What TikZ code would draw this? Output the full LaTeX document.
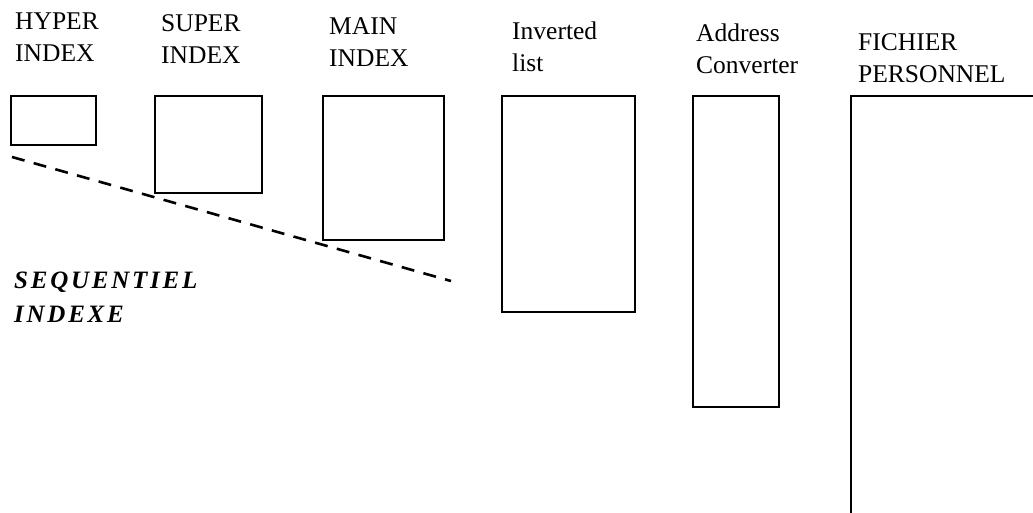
\documentclass[tikz,border=0pt]{standalone}
\usepackage{fontspec}
\setmainfont{Liberation Serif}
\tikzset{
  box/.style={draw, line width=1.8pt, inner sep=0pt, anchor=north west},
  lbl/.style={font=\fontsize{25.5}{32}\selectfont, align=left, inner sep=0pt, anchor=base west}
}
\begin{document}
\begin{tikzpicture}[x=1pt, y=-1pt]
          \useasboundingbox (0,0) rectangle (1033,513);

          % the files
          \node[box, minimum width=85pt, minimum height=49pt] (hyper) at (10,95) {};
          \node[box, minimum width=107pt, minimum height=97pt] (super) at (154,95) {};
          \node[box, minimum width=121pt, minimum height=144pt] (main) at (322,95) {};
          \node[box, minimum width=133pt, minimum height=216pt] (inverted) at (501,95) {};
          \node[box, minimum width=86pt, minimum height=311pt] (address) at (692,95) {};
          \draw[line width=1.8pt] (1040,96) -- (851,96) -- (851,520);

          % their names (anchored on the second line)
          \node[lbl] (hyperlbl) at (15,62) {HYPER\\INDEX};
          \node[lbl] (superlbl) at (161,64) {SUPER\\INDEX};
          \node[lbl] (mainlbl) at (329,67) {MAIN\\INDEX};
          \node[lbl] (invertedlbl) at (512,72) {Inverted\\list};
          \node[lbl] (addresslbl) at (696,74) {Address\\Converter};
          \node[lbl] (fichierlbl) at (858,83) {FICHIER\\PERSONNEL};

          \coordinate (seqa) at (12,157);
          \coordinate (seqb) at (451,281);
          \draw[line width=2.6pt, dash pattern=on 13pt off 9.5pt] (seqa) -- (seqb);
          \node[lbl, font=\fontsize{25}{34}\selectfont\bfseries\itshape\addfontfeatures{LetterSpace=11}] (seqlbl) at (14,322) {SEQUENTIEL\\INDEXE};

        \end{tikzpicture}
\end{document}
